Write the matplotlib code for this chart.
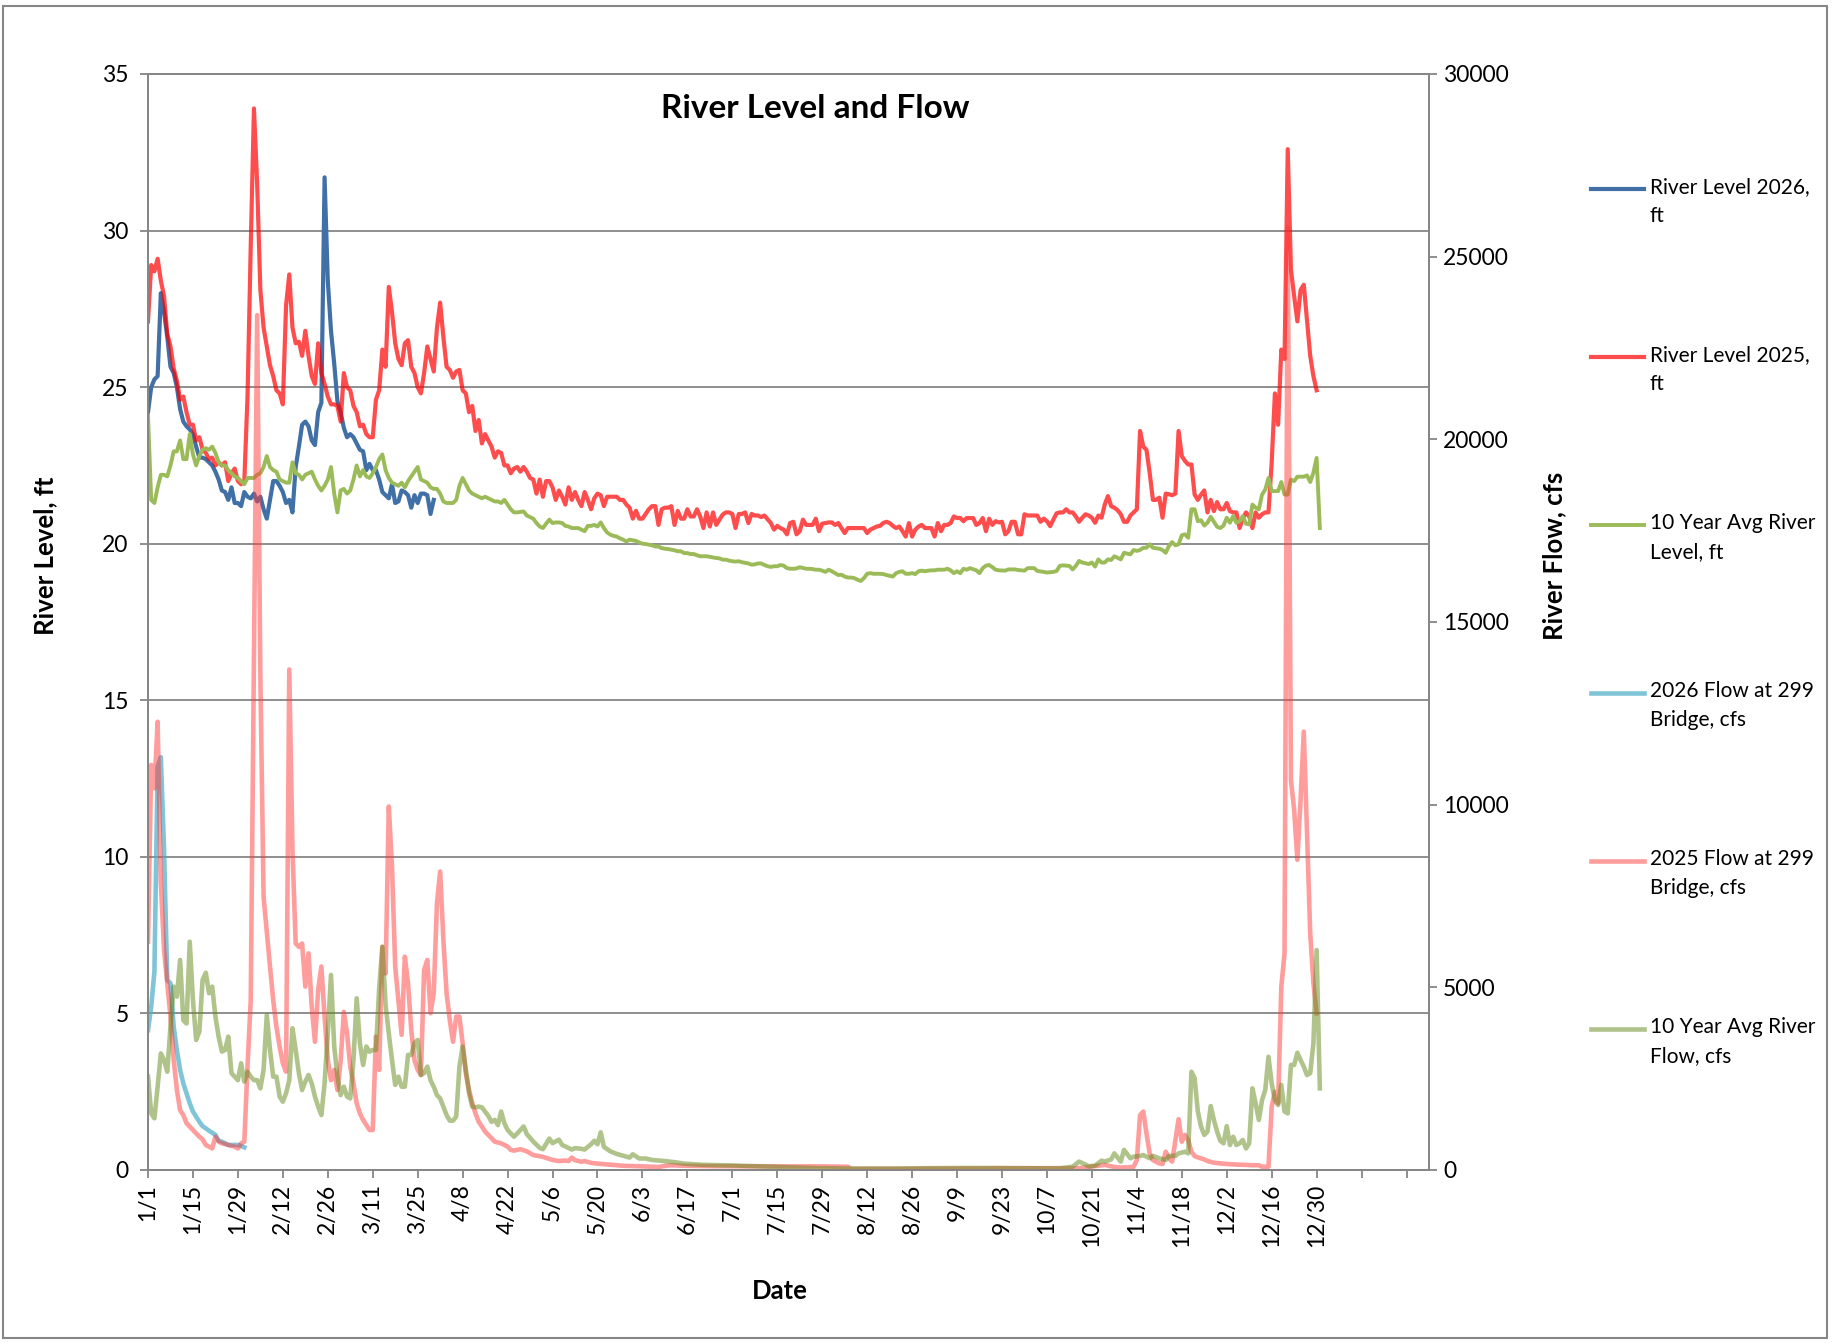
import matplotlib
matplotlib.use('Agg')
import matplotlib.pyplot as plt
from matplotlib.lines import Line2D
from matplotlib.patches import Rectangle

plt.rcParams['font.family'] = ['Lato', 'DejaVu Sans']

# x axis labels, one every 14 days (leap-year calendar)
date_labels = ['1/1', '1/15', '1/29', '2/12', '2/26', '3/11', '3/25', '4/8', '4/22',
               '5/6', '5/20', '6/3', '6/17', '7/1', '7/15', '7/29', '8/12', '8/26',
               '9/9', '9/23', '10/7', '10/21', '11/4', '11/18', '12/2', '12/16', '12/30']

# (day of year, river level ft)
level_2026 = [
    (0, 24.2), (1, 25.0), (2, 25.25), (3, 25.35), (4, 28.0), (5, 27.4), (6, 26.6), (7, 25.65), (8, 25.45), (9, 25.0),
    (10, 24.3), (11, 23.9), (12, 23.75), (13, 23.65), (14, 23.5), (15, 23.1), (16, 22.75), (17, 22.75), (18, 22.7), (19, 22.6),
    (20, 22.5), (21, 22.3), (22, 22.05), (23, 21.7), (24, 21.65), (25, 21.4), (26, 21.8), (27, 21.3), (28, 21.3), (29, 21.2),
    (30, 21.65), (31, 21.5), (32, 21.45), (33, 21.6), (34, 21.35), (35, 21.5), (36, 21.1), (37, 20.8), (38, 21.4), (39, 22.0),
    (40, 22.0), (41, 21.85), (42, 21.65), (43, 21.3), (44, 21.4), (45, 21.0), (46, 22.45), (47, 23.1), (48, 23.8), (49, 23.9),
    (50, 23.75), (51, 23.3), (52, 23.15), (53, 24.2), (54, 24.5), (55, 31.7), (56, 28.4), (57, 26.8), (58, 25.75), (59, 24.55),
    (60, 24.2), (61, 23.7), (62, 23.4), (63, 23.5), (64, 23.4), (65, 23.2), (66, 23.0), (67, 22.95), (68, 22.35), (69, 22.55),
    (70, 22.35), (71, 22.35), (72, 22.05), (73, 21.65), (74, 21.55), (75, 21.45), (76, 21.9), (77, 21.3), (78, 21.35), (79, 21.7),
    (80, 21.65), (81, 21.55), (82, 21.15), (83, 21.55), (84, 21.3), (85, 21.6), (86, 21.6), (87, 21.55), (88, 20.95), (89, 21.4),
]

level_2025 = [
    (0, 27.1), (1, 28.9), (2, 28.7), (3, 29.1), (4, 28.4), (5, 27.9), (6, 26.7), (7, 26.3), (8, 25.6), (9, 25.2),
    (10, 24.6), (11, 24.7), (12, 24.2), (13, 23.8), (14, 23.8), (15, 23.3), (16, 23.4), (17, 23.0), (18, 22.9), (19, 22.7),
    (20, 22.75), (21, 22.5), (22, 22.6), (23, 22.5), (24, 22.6), (25, 22.0), (26, 22.25), (27, 22.4), (28, 22.0), (29, 21.9),
    (30, 22.0), (31, 24.7), (32, 29.5), (33, 33.9), (34, 31.5), (35, 28.1), (36, 26.9), (37, 26.3), (38, 25.7), (39, 25.35),
    (40, 24.9), (41, 24.8), (42, 24.45), (43, 27.6), (44, 28.6), (45, 26.9), (46, 26.4), (47, 26.45), (48, 26.0), (49, 26.8),
    (50, 26.0), (51, 25.35), (52, 25.1), (53, 26.4), (54, 25.45), (55, 25.1), (56, 24.7), (57, 24.45), (58, 24.45), (59, 24.4),
    (60, 23.9), (61, 25.45), (62, 25.0), (63, 24.9), (64, 24.4), (65, 24.2), (66, 23.75), (67, 23.8), (68, 23.5), (69, 23.4),
    (70, 23.4), (71, 24.6), (72, 24.9), (73, 26.2), (74, 25.65), (75, 28.2), (76, 27.4), (77, 26.4), (78, 25.9), (79, 25.7),
    (80, 26.4), (81, 26.5), (82, 25.65), (83, 25.45), (84, 25.0), (85, 24.8), (86, 25.45), (87, 26.3), (88, 25.9), (89, 25.5),
    (90, 26.9), (91, 27.7), (92, 26.6), (93, 25.65), (94, 25.55), (95, 25.3), (96, 25.5), (97, 25.55), (98, 24.9), (99, 24.8),
    (100, 24.2), (101, 24.4), (102, 23.6), (103, 23.95), (104, 23.2), (105, 23.5), (106, 23.3), (107, 23.1), (108, 22.75), (109, 22.95),
    (110, 22.9), (111, 22.5), (112, 22.5), (113, 22.25), (114, 22.4), (115, 22.45), (116, 22.3), (117, 22.45), (118, 22.3), (119, 22.1),
    (120, 22.05), (121, 21.6), (122, 22.05), (123, 21.5), (124, 22.0), (125, 22.0), (126, 21.8), (127, 21.4), (128, 21.7), (129, 21.5),
    (130, 21.25), (131, 21.8), (132, 21.4), (133, 21.65), (134, 21.4), (135, 21.2), (136, 21.65), (137, 21.4), (138, 21.1), (139, 21.45),
    (140, 21.6), (141, 21.55), (142, 21.2), (143, 21.5), (144, 21.5), (145, 21.5), (146, 21.5), (147, 21.4), (148, 21.4), (149, 21.25),
    (150, 21.15), (151, 20.8), (152, 21.05), (153, 20.8), (154, 20.8), (155, 20.95), (156, 21.1), (157, 21.2), (158, 21.2), (159, 20.6),
    (160, 21.1), (161, 21.15), (162, 21.15), (163, 21.2), (164, 20.6), (165, 21.05), (166, 20.8), (167, 20.8), (168, 21.1), (169, 20.87),
    (170, 20.87), (171, 21.1), (172, 20.87), (173, 20.5), (174, 21.0), (175, 20.55), (176, 21.0), (177, 20.6), (178, 20.77), (179, 20.93),
    (180, 21.0), (181, 21.0), (182, 20.95), (183, 20.5), (184, 20.95), (185, 20.95), (186, 21.0), (187, 20.66), (188, 20.95), (189, 20.9),
    (190, 20.9), (191, 20.85), (192, 20.9), (194, 20.66), (195, 20.45), (196, 20.57), (197, 20.5), (198, 20.45), (199, 20.3),
    (200, 20.66), (201, 20.7), (202, 20.3), (203, 20.4), (204, 20.77), (205, 20.6), (206, 20.6), (207, 20.6), (208, 20.8), (209, 20.4),
    (210, 20.64), (211, 20.66), (212, 20.68), (213, 20.68), (214, 20.6), (215, 20.66), (216, 20.5), (217, 20.34), (218, 20.5), (219, 20.5),
    (220, 20.5), (221, 20.5), (222, 20.5), (223, 20.5), (224, 20.34), (225, 20.45), (226, 20.5), (227, 20.55), (228, 20.57), (229, 20.66),
    (230, 20.7), (231, 20.66), (232, 20.57), (233, 20.5), (234, 20.55), (235, 20.4), (236, 20.23), (237, 20.66), (238, 20.23), (239, 20.45),
    (240, 20.55), (241, 20.6), (242, 20.5), (243, 20.5), (244, 20.5), (245, 20.23), (246, 20.66), (247, 20.4), (248, 20.6), (249, 20.6),
    (250, 20.66), (251, 20.87), (252, 20.82), (253, 20.82), (254, 20.72), (255, 20.82), (256, 20.82), (257, 20.82), (258, 20.6), (259, 20.66),
    (260, 20.82), (261, 20.4), (262, 20.8), (263, 20.6), (264, 20.72), (265, 20.68), (266, 20.7), (267, 20.3), (268, 20.4), (269, 20.7),
    (270, 20.7), (271, 20.3), (272, 20.3), (273, 20.94), (274, 20.9), (275, 20.9), (276, 20.9), (277, 20.9), (278, 20.7), (279, 20.8),
    (280, 20.72), (281, 20.56), (282, 20.77), (283, 20.97), (284, 21.0), (285, 21.0), (286, 21.1), (287, 21.0), (288, 21.0), (289, 20.87),
    (290, 20.7), (291, 20.83), (292, 20.94), (293, 20.9), (294, 20.83), (295, 20.67), (296, 20.9), (297, 20.83), (298, 21.25), (299, 21.52),
    (300, 21.2), (301, 21.15), (302, 21.07), (303, 20.94), (304, 20.7), (305, 20.7), (306, 20.9), (307, 21.0), (308, 21.1), (309, 23.6),
    (310, 23.1), (311, 23.0), (312, 22.26), (313, 21.4), (314, 21.4), (315, 21.47), (316, 20.83), (317, 21.6), (318, 21.58), (319, 21.55),
    (320, 21.6), (321, 23.6), (322, 22.8), (323, 22.64), (324, 22.53), (325, 22.53), (326, 21.57), (327, 21.4), (328, 21.57), (329, 21.7),
    (330, 21.0), (331, 21.4), (332, 21.04), (333, 21.33), (334, 21.1), (335, 21.1), (336, 21.3), (337, 21.04), (338, 21.0), (339, 21.0),
    (340, 20.5), (341, 20.8), (342, 21.0), (343, 20.87), (344, 20.5), (345, 21.0), (346, 20.83), (347, 20.94), (348, 21.0), (349, 21.0),
    (350, 22.6), (351, 24.8), (352, 23.8), (353, 26.2), (354, 25.9), (355, 32.6), (356, 28.75), (357, 27.9), (358, 27.1), (359, 28.1),
    (360, 28.27), (361, 27.15), (362, 26.0), (363, 25.35), (364, 24.9),
]

level_10yr = [
    (0, 24.1), (1, 21.4), (2, 21.3), (3, 21.8), (4, 22.2), (5, 22.2), (6, 22.15), (7, 22.5), (8, 22.95), (9, 22.95),
    (10, 23.3), (11, 22.7), (12, 22.7), (13, 23.5), (14, 22.85), (15, 22.5), (16, 22.8), (17, 23.0), (18, 23.05), (19, 23.0),
    (20, 23.1), (21, 22.9), (22, 22.6), (23, 22.5), (24, 22.5), (25, 22.35), (27, 22.15), (28, 22.1), (29, 22.0),
    (30, 21.9), (31, 22.1), (32, 22.1), (33, 22.1), (34, 22.2), (35, 22.25), (36, 22.45), (37, 22.8), (38, 22.45), (39, 22.35),
    (40, 22.3), (41, 22.05), (42, 22.0), (43, 21.95), (44, 21.95), (45, 22.6), (46, 22.25), (47, 22.2), (48, 22.05), (49, 22.2),
    (50, 22.25), (51, 22.3), (52, 22.05), (53, 21.85), (54, 21.7), (55, 21.85), (56, 22.05), (57, 22.45), (58, 21.6), (59, 21.0),
    (60, 21.7), (61, 21.75), (62, 21.6), (63, 21.7), (64, 22.05), (65, 22.5), (66, 22.15), (67, 22.35), (68, 22.15), (69, 22.1),
    (70, 22.25), (71, 22.45), (72, 22.7), (73, 22.85), (74, 22.35), (75, 22.1), (76, 21.95), (77, 21.9), (78, 21.85), (79, 21.95),
    (80, 21.8), (81, 22.0), (82, 22.15), (83, 22.3), (84, 22.45), (85, 22.05), (86, 22.0), (87, 21.95), (88, 21.8), (89, 21.75),
    (90, 21.75), (91, 21.6), (92, 21.35), (93, 21.3), (95, 21.3), (96, 21.4), (97, 21.85), (98, 22.1), (99, 21.9),
    (100, 21.7), (101, 21.6), (102, 21.55), (103, 21.5), (104, 21.45), (105, 21.5), (106, 21.45), (107, 21.4), (108, 21.35), (109, 21.35),
    (110, 21.3), (111, 21.4), (112, 21.25), (113, 21.1), (114, 21.0), (115, 21.0), (117, 21.03), (118, 20.9), (120, 20.8), (121, 20.66),
    (122, 20.55), (123, 20.5), (124, 20.64), (125, 20.77), (126, 20.66), (127, 20.68), (128, 20.68), (129, 20.66), (130, 20.57), (131, 20.55),
    (132, 20.5), (133, 20.5), (134, 20.5), (135, 20.45), (136, 20.4), (137, 20.57), (138, 20.57), (139, 20.6), (140, 20.55), (141, 20.68),
    (142, 20.5), (143, 20.36), (144, 20.29), (145, 20.25), (146, 20.23), (147, 20.17), (148, 20.13), (149, 20.07), (150, 20.13), (152, 20.09),
    (153, 20.04), (154, 20.0), (155, 19.99), (156, 19.97), (157, 19.95), (158, 19.91), (159, 19.91), (160, 19.86), (161, 19.84), (162, 19.83),
    (163, 19.81), (164, 19.79), (165, 19.76), (166, 19.76), (167, 19.7), (168, 19.7), (169, 19.67), (170, 19.67), (171, 19.63), (172, 19.6),
    (173, 19.6), (174, 19.6), (175, 19.58), (176, 19.56), (178, 19.53), (179, 19.49), (180, 19.49), (181, 19.46), (182, 19.44), (183, 19.43),
    (184, 19.44), (185, 19.41), (186, 19.39), (187, 19.37), (188, 19.33), (189, 19.34), (190, 19.37), (191, 19.37), (192, 19.32), (193, 19.28),
    (194, 19.26), (195, 19.28), (196, 19.28), (197, 19.32), (198, 19.3), (199, 19.22), (200, 19.2), (201, 19.2), (202, 19.21), (203, 19.25),
    (205, 19.2), (206, 19.2), (207, 19.19), (208, 19.17), (209, 19.17), (210, 19.14), (211, 19.1), (212, 19.17), (213, 19.12), (214, 19.06),
    (215, 19.0), (216, 19.01), (217, 18.95), (218, 18.92), (219, 18.92), (220, 18.9), (221, 18.85), (222, 18.81), (223, 18.9), (224, 19.04),
    (225, 19.06), (226, 19.04), (227, 19.04), (228, 19.04), (229, 19.03), (230, 19.0), (232, 18.95), (233, 19.06), (234, 19.1), (235, 19.12),
    (236, 19.04), (237, 19.04), (238, 19.06), (239, 19.03), (240, 19.12), (241, 19.14), (242, 19.12), (243, 19.14), (244, 19.15), (245, 19.15),
    (246, 19.17), (247, 19.17), (248, 19.17), (249, 19.2), (250, 19.15), (251, 19.06), (252, 19.12), (253, 19.06), (254, 19.2), (255, 19.17),
    (256, 19.22), (258, 19.15), (259, 19.06), (260, 19.22), (261, 19.3), (262, 19.32), (263, 19.25), (264, 19.17), (265, 19.15), (267, 19.14),
    (268, 19.18), (270, 19.18), (271, 19.16), (273, 19.14), (274, 19.22), (276, 19.22), (277, 19.13), (279, 19.1), (280, 19.08), (282, 19.1),
    (283, 19.13), (284, 19.29), (285, 19.31), (287, 19.29), (288, 19.18), (289, 19.29), (290, 19.45), (291, 19.4), (293, 19.35), (294, 19.4),
    (295, 19.27), (296, 19.5), (297, 19.4), (298, 19.4), (299, 19.5), (300, 19.48), (301, 19.6), (302, 19.55), (303, 19.5), (304, 19.71),
    (306, 19.66), (307, 19.8), (308, 19.77), (309, 19.8), (310, 19.87), (311, 19.87), (312, 19.98), (313, 19.87), (315, 19.84), (316, 19.8),
    (317, 19.71), (318, 19.93), (319, 20.05), (320, 19.95), (321, 19.98), (322, 20.27), (323, 20.3), (324, 20.19), (325, 21.1), (326, 21.1),
    (327, 20.72), (328, 20.75), (329, 20.58), (330, 20.67), (331, 20.86), (332, 20.7), (333, 20.54), (334, 20.5), (335, 20.58), (336, 20.83),
    (337, 20.67), (338, 20.88), (339, 20.67), (340, 20.72), (341, 20.88), (342, 20.64), (343, 20.62), (344, 21.25), (345, 21.15), (346, 21.1),
    (347, 21.57), (348, 21.73), (349, 22.1), (350, 21.68), (351, 21.68), (352, 21.68), (353, 21.97), (354, 21.57), (355, 21.57), (356, 22.05),
    (357, 22.0), (358, 22.14), (359, 22.14), (360, 22.14), (361, 22.18), (362, 21.97), (363, 22.27), (364, 22.74), (365, 20.5),
]

# (day of year, flow at 299 bridge cfs)
flow_2026 = [
    (0, 3830), (1, 4470), (2, 5430), (3, 11040), (4, 11300), (5, 8760), (6, 5200), (7, 5110), (8, 3920), (9, 3280),
    (10, 2740), (11, 2370), (12, 2100), (13, 1825), (14, 1600), (15, 1460), (16, 1320), (17, 1200), (18, 1140), (19, 1075),
    (20, 1020), (21, 960), (22, 800), (23, 775), (24, 730), (25, 685), (26, 685), (27, 685), (28, 685), (29, 660), (30, 620),
]

flow_2025 = [
    (0, 6250), (1, 11090), (2, 10450), (3, 12270), (4, 7850), (5, 6020), (6, 5110), (7, 4200), (8, 3010), (9, 2190),
    (10, 1640), (11, 1505), (12, 1280), (14, 1095), (15, 1000), (16, 910), (17, 840), (18, 685), (19, 640),
    (20, 590), (21, 910), (22, 775), (23, 730), (24, 710), (25, 685), (26, 660), (27, 640), (28, 590), (29, 730),
    (30, 775), (31, 2830), (32, 4650), (33, 14000), (34, 23400), (35, 13500), (36, 7480), (38, 5570), (39, 4650),
    (40, 3920), (41, 3380), (42, 2920), (43, 2690), (44, 13700), (45, 8760), (46, 6200), (47, 6110), (48, 6200), (49, 5020),
    (50, 5930), (51, 4470), (52, 3510), (53, 4930), (54, 5570), (55, 4200), (56, 3010), (57, 2460), (58, 2740), (59, 2190),
    (60, 2970), (61, 4330), (62, 3740), (63, 2830), (64, 2370), (65, 1825), (66, 1550), (67, 1370), (68, 1230), (69, 1095),
    (70, 1095), (71, 3650), (72, 2740), (73, 6110), (74, 5380), (75, 9950), (76, 8300), (77, 5570), (78, 4650), (79, 3700),
    (80, 5840), (81, 5110), (82, 3830), (83, 3010), (84, 2740), (85, 2600), (86, 5475), (87, 5750), (88, 4290), (89, 4840),
    (90, 7300), (91, 8170), (92, 6300), (93, 4840), (94, 4100), (95, 3510), (96, 4200), (97, 4200), (98, 3470), (99, 2650),
    (100, 2190), (101, 1825), (102, 1550), (103, 1320), (104, 1190), (105, 1050), (106, 960), (107, 870), (108, 775),
    (110, 730), (111, 685), (112, 640), (113, 550), (114, 530), (116, 570), (118, 510), (120, 410), (123, 360), (126, 275),
    (128, 245), (130, 260), (131, 245), (132, 340), (133, 270), (135, 225), (136, 245), (138, 195), (140, 175), (144, 145),
    (148, 115), (154, 100), (159, 80), (161, 115), (163, 130), (167, 115), (176, 105), (187, 100), (198, 100), (209, 100),
    (218, 90), (219, 30), (232, 30), (254, 40), (276, 50), (290, 50), (298, 140), (300, 100), (302, 70), (305, 70),
    (307, 90), (308, 270), (309, 1500), (310, 1600), (311, 1000), (312, 455), (313, 270), (315, 180), (316, 165), (317, 500),
    (318, 320), (319, 230), (320, 820), (321, 1390), (322, 775), (323, 960), (324, 820), (325, 500), (326, 380), (327, 345),
    (329, 290), (330, 245), (332, 200), (334, 180), (336, 165), (338, 155), (340, 145), (342, 140), (344, 130), (346, 130),
    (347, 90), (349, 90), (350, 1730), (351, 2140), (352, 1825), (353, 5020), (354, 5930), (355, 25800), (356, 10680), (357, 9855),
    (358, 8490), (359, 10130), (360, 12000), (361, 9220), (362, 6480), (363, 5110), (364, 4290),
]

flow_10yr = [
    (0, 2555), (1, 1550), (2, 1415), (3, 2280), (4, 3190), (5, 3010), (6, 2690), (7, 3920), (8, 5020), (9, 4745),
    (10, 5750), (11, 4100), (12, 4010), (13, 6250), (14, 4650), (15, 3560), (16, 3790), (17, 5200), (18, 5400), (19, 4840),
    (20, 5020), (21, 4200), (22, 3650), (23, 3240), (24, 3285), (25, 3650), (26, 2650), (27, 2555), (28, 2460), (29, 2920),
    (30, 2420), (31, 2690), (32, 2555), (33, 2460), (34, 2460), (35, 2235), (36, 2740), (37, 4240), (38, 3285), (39, 2555),
    (40, 2555), (41, 2010), (42, 1870), (43, 2100), (44, 2460), (45, 3880), (46, 3285), (47, 2650), (48, 2190), (49, 2420),
    (50, 2600), (51, 2370), (52, 2010), (53, 1735), (54, 1505), (55, 2370), (56, 3740), (57, 5340), (58, 3380), (59, 2555),
    (60, 2050), (61, 2280), (62, 2010), (63, 1960), (64, 3010), (65, 4700), (66, 3470), (67, 2875), (68, 3380), (69, 3240),
    (70, 3285), (71, 3285), (72, 4970), (73, 6110), (74, 4520), (75, 3740), (76, 3010), (77, 2330), (78, 2555), (79, 2280),
    (80, 2280), (81, 3150), (82, 3150), (83, 3470), (84, 3560), (85, 2600), (86, 2650), (87, 2830), (88, 2460), (89, 2280),
    (90, 2050), (91, 1960), (92, 1735), (93, 1505), (94, 1350), (95, 1350), (96, 1460), (97, 2830), (98, 3380), (99, 2740),
    (100, 2100), (101, 1735), (102, 1715), (103, 1735), (104, 1715), (105, 1600), (106, 1480), (107, 1320), (108, 1370), (109, 1230),
    (110, 1600), (111, 1280), (112, 1095), (113, 1000), (114, 910), (115, 1000), (117, 1190), (118, 980), (120, 780), (122, 605),
    (123, 570), (125, 860), (126, 735), (128, 830), (129, 685), (132, 560), (133, 600), (135, 580), (136, 560), (138, 705),
    (139, 800), (140, 705), (141, 1030), (142, 635), (144, 510), (146, 440), (148, 390), (150, 340), (151, 430), (153, 315),
    (155, 315), (157, 275), (161, 245), (164, 215), (167, 175), (172, 145), (176, 135), (182, 125), (187, 110), (194, 90),
    (201, 70), (209, 50), (218, 40), (232, 40), (243, 50), (254, 55), (265, 55), (278, 45), (284, 45), (288, 90),
    (290, 230), (292, 150), (293, 100), (295, 120), (297, 255), (298, 230), (300, 290), (301, 455), (303, 230), (304, 550),
    (306, 320), (307, 365), (309, 385), (310, 410), (312, 320), (313, 385), (315, 320), (317, 275), (318, 385), (320, 385),
    (321, 455), (323, 500), (324, 455), (325, 2690), (326, 2510), (327, 1600), (328, 1185), (329, 960), (330, 1050), (331, 1750),
    (332, 1370), (333, 1050), (334, 800), (335, 730), (336, 1200), (337, 685), (338, 910), (339, 685), (340, 730), (341, 820),
    (342, 590), (343, 730), (344, 2235), (345, 1825), (346, 1370), (347, 1915), (348, 2190), (349, 3100), (350, 2370), (351, 1915),
    (352, 1780), (353, 2330), (354, 1600), (355, 1550), (356, 2875), (357, 2875), (358, 3210), (359, 3010), (360, 2830), (361, 2600),
    (362, 2650), (363, 3470), (364, 6020), (365, 2235),
]

# name, data, axis, colour, alpha, width
series = [
    ('River Level 2026,\nft', level_2026, 'left', '#4170A6', 1.0, 3.0),
    ('River Level 2025,\nft', level_2025, 'left', '#FF0000', 0.7, 3.0),
    ('10 Year Avg River\nLevel, ft', level_10yr, 'left', '#9BBB59', 1.0, 2.8),
    ('2026 Flow at 299\nBridge, cfs', flow_2026, 'right', '#4BACC6', 0.7, 3.3),
    ('2025 Flow at 299\nBridge, cfs', flow_2025, 'right', '#FF3B3B', 0.5, 3.3),
    ('10 Year Avg River\nFlow, cfs', flow_10yr, 'right', '#618919', 0.5, 3.3),
]

W, H = 1834, 1343
fig = plt.figure(figsize=(W / 100, H / 100), dpi=100)
ax = fig.add_axes([148 / W, 1 - 1170 / H, (1429 - 148) / W, (1170 - 74) / H])
ax2 = ax.twinx()

for name, data, side, col, alpha, lw in series:
    days = [d for d, v in data]
    vals = [v for d, v in data]
    target = ax if side == 'left' else ax2
    target.plot(days, vals, color=col, alpha=alpha, lw=lw, solid_joinstyle='round')

grey = '#868686'
ax.set_xlim(0, 399)
ax.set_ylim(0, 35)
ax2.set_ylim(0, 30000)
ax.set_yticks(range(0, 36, 5))
ax2.set_yticks(range(0, 30001, 5000))
ax.set_xticks(range(0, 393, 14))
ax.set_xticklabels(date_labels + ['', ''], rotation=90)

ax.yaxis.grid(True, color=grey, lw=1.3)
ax.set_axisbelow(True)
for a in (ax, ax2):
    for s in a.spines.values():
        s.set_color(grey)
        s.set_linewidth(1.3)
ax.tick_params(axis='y', direction='out', length=6, width=1.3, color=grey, labelsize=16.5, pad=8)
ax.tick_params(axis='x', direction='out', length=6, width=1.3, color=grey, labelsize=16.5, pad=4)
ax2.tick_params(axis='y', direction='out', length=6, width=1.3, color=grey, labelsize=16.5, pad=4)

ax.set_ylabel('River Level, ft', fontsize=18.5, fontweight='bold')
ax.yaxis.set_label_coords(-0.071, 0.56)
ax2.set_ylabel('River Flow, cfs', fontsize=18.5, fontweight='bold')
ax2.yaxis.set_label_coords(1.088, 0.56)
ax.set_xlabel('Date', fontsize=18.5, fontweight='bold')
ax.xaxis.set_label_coords(0.493, -0.099)

fig.text(815 / W, 1 - 108 / H, 'River Level and Flow', ha='center', va='center',
         fontsize=24, fontweight='bold')

# legend on the right, handle beside the first line of each label
for i, (name, data, side, col, alpha, lw) in enumerate(series):
    y = 1 - (189 + 168 * i) / H
    fig.add_artist(Line2D([1591 / W, 1644 / W], [y, y], transform=fig.transFigure,
                          color=col, alpha=alpha, lw=lw))
    fig.text(1650 / W, y + 12 / H, name, ha='left', va='top', fontsize=15, linespacing=1.55)

fig.add_artist(Rectangle((3 / W, 5 / H), (W - 10) / W, (H - 11) / H, transform=fig.transFigure,
                         fill=False, edgecolor=grey, lw=1.5))

fig.savefig('out.png', dpi=100)
